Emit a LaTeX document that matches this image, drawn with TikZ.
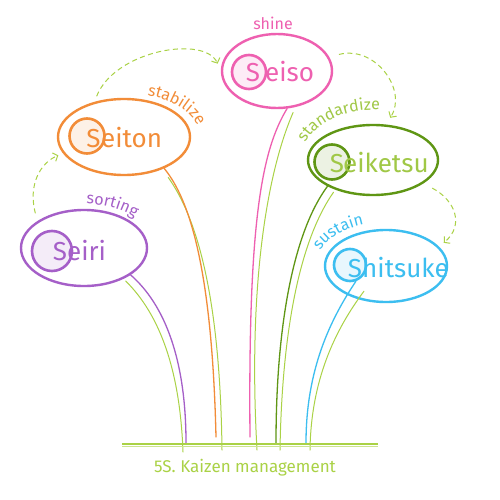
\documentclass[tikz,border=0pt]{standalone}
\usepackage{fontspec}
\setmainfont{Fira Sans}
\usetikzlibrary{shapes.geometric,arrows.meta,decorations.text}
\definecolor{pinkc}{RGB}{238,96,176}
\definecolor{orangec}{RGB}{242,140,56}
\definecolor{purplec}{RGB}{165,95,200}
\definecolor{dgreen}{RGB}{95,150,20}
\definecolor{lgreen}{RGB}{170,210,70}
\definecolor{tgreen}{RGB}{160,200,70}
\definecolor{bluec}{RGB}{60,190,240}
\newcommand{\bigf}{\fontsize{26}{26}\selectfont}
\newcommand{\lblf}{\fontsize{16}{16}\selectfont}
\begin{document}
\begin{tikzpicture}[x=1pt,y=-1pt,
  oval/.style={ellipse, draw=#1, line width=2.4pt, inner sep=0pt},
  ring/.style={circle, draw=#1, line width=2.6pt, fill=#1!12, inner sep=0pt},
  big/.style={font=\bigf, inner sep=0pt, text=#1},
  stem/.style={line width=1.3pt, line cap=round, draw=#1},
  twin/.style={line width=1pt, line cap=round, draw=lgreen},
  flow/.style={draw=lgreen, line width=1pt, dash pattern=on 5pt off 3.5pt,
     -{Straight Barb[length=4pt,width=9pt]}},
  lbl/.style={decorate, decoration={text along path, text={#1}}},
]
\useasboundingbox[fill=white] (0,0) rectangle (500,500);

% ellipses
\node[oval=pinkc,   minimum width=110pt, minimum height=74pt] (seiso)    at (277,71)  {};
\node[oval=orangec, minimum width=132pt, minimum height=76pt] (seiton)   at (124,137) {};
\node[oval=purplec, minimum width=126pt, minimum height=76pt] (seiri)    at (84,248)  {};
\node[oval=dgreen,  minimum width=130pt, minimum height=70pt] (seiketsu) at (373,160) {};
\node[oval=bluec,   minimum width=122pt, minimum height=72pt] (shitsuke) at (386,266) {};

% rings
\node[ring=pinkc,   minimum size=34pt] (cseiso)    at (249,72)  {};
\node[ring=orangec, minimum size=35pt] (cseiton)   at (87,136)  {};
\node[ring=purplec, minimum size=40pt] (cseiri)    at (52,251)  {};
\node[ring=dgreen,  minimum size=35pt] (cseiketsu) at (332,162) {};
\node[ring=bluec,   minimum size=32pt] (cshitsuke) at (350,265) {};

% words
\node[big=pinkc, anchor=base]        (sseiso)  at (253,82) {S};
\node[big=pinkc, anchor=base west]   (tseiso)  at (265,82) {eiso};
\node[big=orangec, anchor=base]      (sseiton) at (93.5,147) {S};
\node[big=orangec, anchor=base west] (tseiton) at (101,147) {eiton};
\node[big=purplec, anchor=base]      (sseiri)  at (60,260) {S};
\node[big=purplec, anchor=base west] (tseiri)  at (67,260) {eiri};
\node[big=tgreen, anchor=base]       (sseiketsu) at (337,172) {S};
\node[big=tgreen, anchor=base west]  (tseiketsu) at (343,172) {eiketsu};
\node[big=bluec, anchor=base]        (sshitsuke) at (355,277) {S};
\node[big=bluec, anchor=base west]   (tshitsuke) at (362,277) {hitsuke};

% small labels
\node[font=\lblf, text=pinkc, anchor=base, inner sep=0pt] (lshine) at (273,30) {shine};
\path[lbl={|\lblf\color{orangec}|stabilize}]
  plot[domain=0:1, samples=40] ({124+76*cos(72-67*\x)},{137-44*sin(72-67*\x)});
\path[lbl={|\lblf\color{purplec}|sorting}]
  plot[domain=0:1, samples=40] ({84+70*cos(88-58*\x)},{248-44*sin(88-58*\x)});
\path[lbl={|\lblf\color{tgreen}|standardize}]
  plot[domain=0:1, samples=40] ({373+72*cos(160-110*\x)},{160-50*sin(160-110*\x)});
\path[lbl={|\lblf\color{bluec}|sustain}]
  plot[domain=0:1, samples=40] ({386+70*cos(160-80*\x)},{266-44*sin(160-80*\x)});

% stem ends
\coordinate (gpurple) at (186,443);  \coordinate (gpurple2) at (183,452);
\coordinate (gorange) at (216,437);  \coordinate (gorange2) at (222,450);
\coordinate (gpink)   at (250,437);  \coordinate (gpink2)   at (257,450);
\coordinate (gdgreen) at (276,443);  \coordinate (gdgreen2) at (280,450);
\coordinate (gblue)   at (306,443);  \coordinate (gblue2)   at (310,450);
\coordinate (gl) at (122,444); \coordinate (gr) at (378,444);

% stems
\draw[twin] ([shift={(-5,6)}]seiri.-30) .. controls (160,315) and (180,370) .. (gpurple2);
\draw[stem=purplec] (seiri.-30) .. controls (165,305) and (186,360) .. (gpurple);
\draw[twin] ([shift={(4,9)}]seiton.-38) .. controls (195,215) and (220,290) .. (gorange2);
\draw[stem=orangec] (seiton.-38) .. controls (190,200) and (212,270) .. (gorange);
\draw[twin] ([shift={(6,4)}]seiso.-75) .. controls (266,175) and (248,290) .. (gpink2);
\draw[stem=pinkc] (seiso.-75) .. controls (262,150) and (248,220) .. (gpink);
\draw[twin] ([shift={(6,6)}]seiketsu.-150) .. controls (300,240) and (282,330) .. (gdgreen2);
\draw[stem=dgreen] (seiketsu.-150) .. controls (295,230) and (276,320) .. (gdgreen);
\draw[twin] ([shift={(8,10)}]cshitsuke.-70) .. controls (335,330) and (311,380) .. (gblue2);
\draw[stem=bluec] (cshitsuke.-70) .. controls (330,320) and (306,370) .. (gblue);

% ground
\draw[lgreen, line width=1.6pt] (gl) -- (gr);
\draw[lgreen!60, line width=0.6pt] ([yshift=-2pt]gl) -- ([yshift=-2pt]gr);

% flow arrows
\draw[flow, shorten <=8pt, shorten >=5pt] (seiri.150) .. controls (28,185) and (40,163) .. (seiton.195);
\draw[flow, shorten <=6pt, shorten >=8pt] (seiton.130) .. controls (115,50) and (205,35) .. (seiso.180);
\draw[flow, shorten <=10pt, shorten >=8pt] (seiso.15) .. controls (375,45) and (408,90) .. (seiketsu.70);
\draw[flow, shorten <=10pt, shorten >=6pt] (seiketsu.-25) .. controls (455,200) and (465,225) .. (shitsuke.20);

% title
\node[font=\fontsize{17}{17}\selectfont, text=lgreen, inner sep=0pt] (title) at (245,468) {5S. Kaizen management};
\end{tikzpicture}
\end{document}
